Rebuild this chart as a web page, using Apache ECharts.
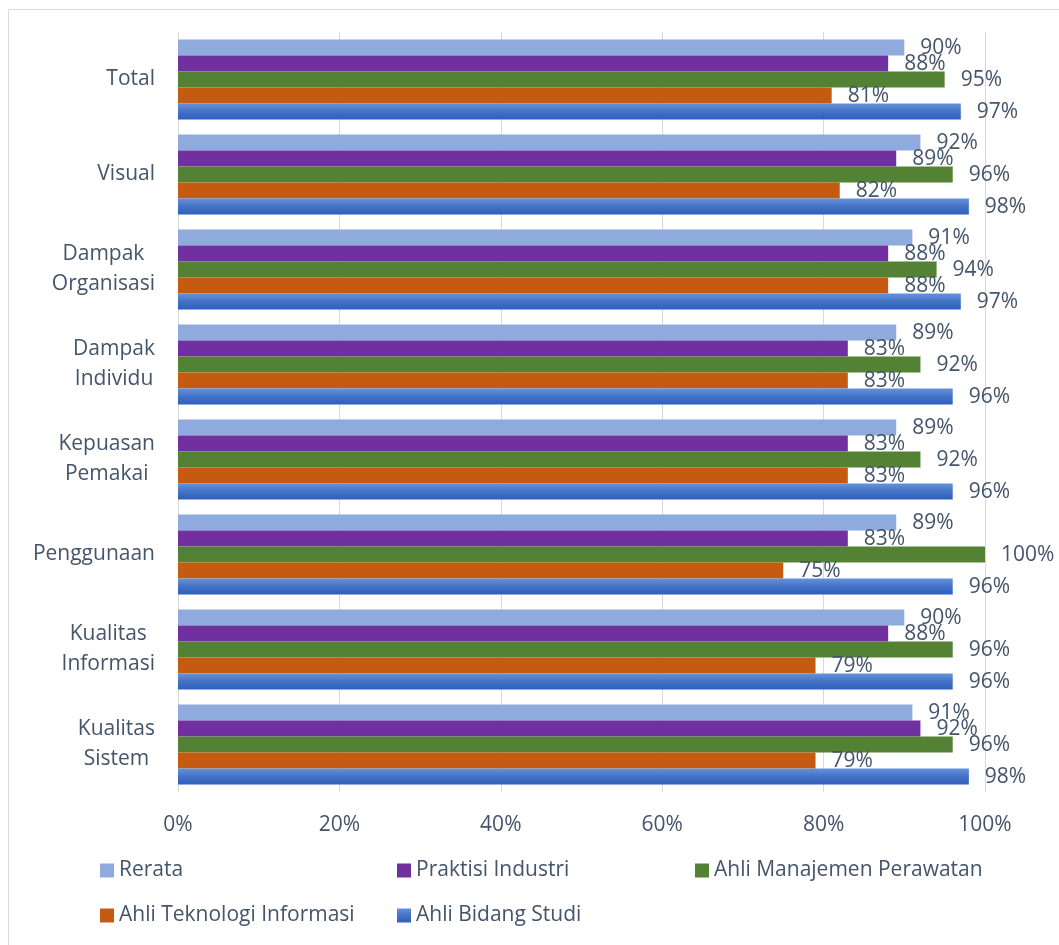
<!DOCTYPE html>
<html>
<head>
<meta charset="utf-8">
<script src="https://cdn.jsdelivr.net/npm/echarts@6/dist/echarts.min.js"></script>
<style>
  html, body { margin: 0; padding: 0; background: #fff; }
  #chart { width: 1059px; height: 945px; }
</style>
</head>
<body>
<div id="chart"></div>
<script>
// Categories, bottom to top on the y axis
const categories = [
  'Kualitas\nSistem',
  'Kualitas\nInformasi',
  'Penggunaan',
  'Kepuasan\nPemakai',
  'Dampak\nIndividu',
  'Dampak\nOrganisasi',
  'Visual',
  'Total'
];

// Percentages per series, same order as categories
const rerata            = [91, 90, 89, 89, 89, 91, 92, 90];
const praktisiIndustri  = [92, 88, 83, 83, 83, 88, 89, 88];
const ahliManajemen     = [96, 96, 100, 92, 92, 94, 96, 95];
const ahliTeknologi     = [79, 79, 75, 83, 83, 88, 82, 81];
const ahliBidangStudi   = [98, 96, 96, 96, 96, 97, 98, 97];

const xTicks = [0, 20, 40, 60, 80, 100];

const seriesNames = [
  'Rerata',
  'Praktisi Industri',
  'Ahli Manajemen Perawatan',
  'Ahli Teknologi Informasi',
  'Ahli Bidang Studi'
];
const seriesData = [rerata, praktisiIndustri, ahliManajemen, ahliTeknologi, ahliBidangStudi];

const FONT = '"Open Sans", "Noto Sans", sans-serif';
const TEXT = '#44546A';
const FS = 21;

const blueGradient = new echarts.graphic.LinearGradient(0, 0, 0, 1, [
  { offset: 0, color: '#6592DC' },
  { offset: 0.5, color: '#4472C4' },
  { offset: 1, color: '#2E5FBF' }
]);
const colors = ['#8FAADC', '#7030A0', '#548235', '#C55A11', blueGradient];

const chart = echarts.init(document.getElementById('chart'), null, { renderer: 'canvas' });

const series = seriesNames.map((name, i) => ({
  name: name,
  type: 'bar',
  data: seriesData[i],
  barGap: '0%',
  barCategoryGap: '15.8%',
  itemStyle: { color: colors[i] },
  label: {
    show: true,
    position: 'right',
    distance: 16,
    offset: [0, 1],
    formatter: '{c}%',
    fontFamily: FONT,
    fontSize: FS,
    color: TEXT
  },
  emphasis: { disabled: true }
}));

// Legend entries laid out in two rows of columns
const legendSpots = [
  { left: 100, top: 860 },
  { left: 397, top: 860 },
  { left: 695, top: 860 },
  { left: 100, top: 905 },
  { left: 397, top: 905 }
];
const legends = seriesNames.map((name, i) => ({
  data: [name],
  left: legendSpots[i].left,
  top: legendSpots[i].top,
  padding: 0,
  itemWidth: 14,
  itemHeight: 14,
  icon: 'rect',
  selectedMode: false,
  textStyle: { fontFamily: FONT, fontSize: FS, color: TEXT }
}));

chart.setOption({
  animation: false,
  backgroundColor: '#fff',
  graphic: [{
    type: 'rect',
    shape: { x: 8.5, y: 9.5, width: 1100, height: 1000 },
    style: { fill: 'none', stroke: '#D9D9D9', lineWidth: 1 },
    silent: true
  }],
  grid: { left: 178, right: 74, top: 32, bottom: 153 },
  legend: legends,
  xAxis: {
    type: 'value',
    min: xTicks[0],
    max: xTicks[xTicks.length - 1],
    interval: xTicks[1] - xTicks[0],
    axisLine: { show: false },
    axisTick: { show: false },
    splitLine: { show: true, lineStyle: { color: '#D9D9D9', width: 1 } },
    axisLabel: {
      formatter: '{value}%',
      margin: 23,
      fontFamily: FONT,
      fontSize: FS,
      color: TEXT
    }
  },
  yAxis: {
    type: 'category',
    data: categories,
    axisLine: { show: true, lineStyle: { color: '#D9D9D9', width: 1 } },
    axisTick: { show: false },
    axisLabel: {
      margin: 23,
      fontFamily: FONT,
      fontSize: FS,
      color: TEXT,
      lineHeight: 30,
      formatter: v => v.split('\n').map(s => '{c|' + s + '}').join('\n'),
      rich: {
        c: { align: 'center', fontFamily: FONT, fontSize: FS, color: TEXT, lineHeight: 30 }
      }
    }
  },
  series: series
});
</script>
</body>
</html>
